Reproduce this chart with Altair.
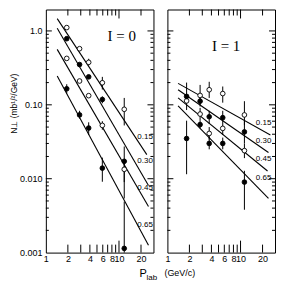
import altair as alt
import pandas as pd

SERIES = ["0.15", "0.30", "0.45", "0.65"]
MARKER = ["open", "filled", "open", "filled"]

# ---- Left panel (I = 0) ----
L_X = [1.93, 2.89, 3.85, 5.92, 11.8]
L_Y015 = [1.11, 0.575, 0.376, 0.199, 0.087]
L_Y030 = [0.785, 0.351, 0.239, 0.118, 0.0172]
L_Y045 = [0.425, 0.210, 0.133, 0.0527, 0.0134]
L_Y065 = [0.165, 0.0730, 0.0485, 0.0139, 0.00114]
L_LO015 = [None, None, 0.34, 0.161, 0.0526]
L_HI015 = [None, None, 0.42, 0.239, 0.124]
L_LO030 = [None, None, None, 0.105, 0.0054]
L_HI030 = [None, None, None, 0.13, 0.0273]
L_LO045 = [None, None, None, 0.046, 0.009]
L_HI045 = [None, None, None, 0.060, 0.018]
L_LO065 = [0.143, 0.065, 0.039, 0.0091, 0.001]
L_HI065 = [0.19, 0.083, 0.058, 0.0193, 0.0049]
L_FIT_X0 = [1.43, 1.43, 1.43, 1.43]
L_FIT_X1 = [24.0, 25.3, 25.3, 25.3]
L_FIT_Y0 = [1.47, 1.085, 0.563, 0.246]
L_FIT_Y1 = [0.0212, 0.0081, 0.0042, 0.00126]
L_LAB_X = [17.8, 17.8, 17.8, 17.8]
L_LAB_Y = [0.037, 0.0173, 0.0074, 0.0024]
L_NOTE = "I = 0"
L_NOTE_X = [10.9]
L_NOTE_Y = [0.85]

# ---- Right panel (I = 1) ----
R_X = [1.83, 2.80, 3.73, 5.71, 11.3]
R_Y015 = [0.113, 0.134, 0.160, 0.142, 0.073]
R_Y030 = [0.130, 0.112, 0.069, 0.067, 0.043]
R_Y045 = [None, 0.075, 0.041, 0.048, 0.024]
R_Y065 = [0.035, 0.054, 0.030, 0.030, 0.009]
R_LO015 = [None, 0.101, 0.124, 0.107, 0.053]
R_HI015 = [None, 0.186, 0.205, 0.177, 0.112]
R_LO030 = [0.085, 0.095, 0.055, 0.055, 0.030]
R_HI030 = [0.20, 0.13, 0.083, 0.083, 0.060]
R_LO045 = [None, 0.061, 0.034, 0.039, 0.019]
R_HI045 = [None, 0.091, 0.050, 0.055, 0.030]
R_LO065 = [0.0115, 0.048, 0.025, 0.025, 0.0038]
R_HI065 = [0.061, 0.061, 0.037, 0.036, 0.0128]
R_FIT_X0 = [1.40, 1.40, 1.40, 1.40]
R_FIT_X1 = [25.6, 24.1, 23.4, 24.1]
R_FIT_Y0 = [0.195, 0.160, 0.124, 0.0965]
R_FIT_Y1 = [0.039, 0.0226, 0.0127, 0.0054]
R_LAB_X = [16.2, 16.2, 16.2, 16.2]
R_LAB_Y = [0.0565, 0.0325, 0.0183, 0.0102]
R_NOTE = "I = 1"
R_NOTE_X = [6.35]
R_NOTE_Y = [0.63]

# ---- axes ----
X_LABELS = [1, 2, 4, 6, 8, 10, 20]
X_TICKS_SHORT = [2, 3, 4, 5, 6, 7, 8, 9, 20]
X_TICKS_LONG = [10]
Y_LABELS = [0.001, 0.01, 0.1, 1.0]
Y_LABEL_TEXT = ["0.001", "0.010", "0.10", "1.0"]
Y_TICKS_MAJOR = [0.01, 0.1, 1.0]
Y_TICKS_MINOR = [m * d for d in (0.001, 0.01, 0.1) for m in range(2, 10)]
X_DOMAIN = [1, 29.6]
Y_DOMAIN = [0.001, 1.95]
Y_TITLE = "N⊥ (mb¹/²/GeV)"

W, H = 108, 244
FONT = "Liberation Sans"

label_expr = " : ".join(
    f"datum.value < {v * 1.5} ? '{t}'" for v, t in zip(Y_LABELS, Y_LABEL_TEXT)
) + " : ''"


def points_df(X, Ys, LOs, HIs):
    rows = []
    for s, k, ys, los, his in zip(SERIES, MARKER, Ys, LOs, HIs):
        for x, y, lo, hi in zip(X, ys, los, his):
            if y is None:
                continue
            rows.append(dict(series=s, kind=k, x=x, y=y, lo=lo, hi=hi))
    return pd.DataFrame(rows)


def panel(X, Ys, LOs, HIs, fx0, fx1, fy0, fy1, lx, ly, note, nx, ny, left):
    xs = alt.Scale(type="log", domain=X_DOMAIN, nice=False)
    ys = alt.Scale(type="log", domain=Y_DOMAIN, nice=False)
    xaxis = alt.Axis(values=X_LABELS, ticks=False, domain=False, grid=False,
                     labelFontSize=9, labelPadding=2, labelFlush=False,
                     labelOverlap=False, title=None, format="d", labelFont=FONT)
    if left:
        yaxis = alt.Axis(values=Y_LABELS, ticks=False, tickSize=0, domain=False,
                         grid=False, labelFontSize=9, labelPadding=4,
                         labelExpr=label_expr, title=Y_TITLE, titleFontSize=8.5,
                         titleFontWeight="normal", titlePadding=1, titleY=94,
                         labelFont=FONT, titleFont=FONT)
    else:
        yaxis = None

    def X_(f):
        return alt.X(f, type="quantitative", scale=xs, axis=xaxis)

    def Y_(f):
        return alt.Y(f, type="quantitative", scale=ys, axis=yaxis)

    pts = points_df(X, Ys, LOs, HIs)
    errs = pts.dropna(subset=["lo", "hi"])

    fit_rows = []
    for s, a, b, c, d in zip(SERIES, fx0, fx1, fy0, fy1):
        fit_rows.append(dict(series=s, x=a, y=c))
        fit_rows.append(dict(series=s, x=b, y=d))
    fits = pd.DataFrame(fit_rows)
    labs = pd.DataFrame(dict(series=SERIES, x=lx, y=ly))
    notes = pd.DataFrame(dict(t=[note], x=nx, y=ny))

    layers = []
    layers.append(alt.Chart(fits).mark_line(color="black", strokeWidth=1.1).encode(
        x=X_("x"), y=Y_("y"), detail="series:N"))
    layers.append(alt.Chart(errs).mark_rule(color="black", strokeWidth=1).encode(
        x=X_("x"), y=Y_("lo"), y2="hi"))
    layers.append(alt.Chart(pts).mark_circle(size=22, opacity=1, stroke="black",
                                             strokeWidth=0.9).encode(
        x=X_("x"), y=Y_("y"),
        fill=alt.Fill("kind:N", scale=alt.Scale(domain=["open", "filled"],
                                                 range=["white", "black"]), legend=None)))
    layers.append(alt.Chart(labs).mark_text(align="left", baseline="middle", fontSize=8,
                                            font=FONT, color="black").encode(
        x=X_("x"), y=Y_("y"), text="series:N"))
    layers.append(alt.Chart(notes).mark_text(align="center", baseline="middle", fontSize=15,
                                             font="Liberation Serif", color="black").encode(
        x=X_("x"), y=Y_("y"), text="t:N"))

    ymaj = pd.DataFrame(dict(v=Y_TICKS_MAJOR))
    ymin = pd.DataFrame(dict(v=Y_TICKS_MINOR))
    xsh = pd.DataFrame(dict(v=X_TICKS_SHORT))
    xlo = pd.DataFrame(dict(v=X_TICKS_LONG))
    r = dict(color="black", strokeWidth=1)
    for df, ln in ((ymaj, 6), (ymin, 3)):
        layers.append(alt.Chart(df).mark_rule(**r).encode(
            y=Y_("v"), x=alt.value(0), x2=alt.value(ln)))
        layers.append(alt.Chart(df).mark_rule(**r).encode(
            y=Y_("v"), x=alt.value(W), x2=alt.value(W - ln)))
    for df, ln, lt in ((xsh, 8, 6), (xlo, 12, 9)):
        layers.append(alt.Chart(df).mark_rule(**r).encode(
            x=X_("v"), y=alt.value(H), y2=alt.value(H - ln)))
        layers.append(alt.Chart(df).mark_rule(**r).encode(
            x=X_("v"), y=alt.value(0), y2=alt.value(lt)))

    if left:
        layers.append(alt.Chart(notes).mark_text(align="left", baseline="alphabetic",
                                                 fontSize=11, font=FONT).encode(
            x=alt.value(94), y=alt.value(H + 24), text=alt.value("P")))
        layers.append(alt.Chart(notes).mark_text(align="left", baseline="alphabetic",
                                                 fontSize=8, font=FONT).encode(
            x=alt.value(101), y=alt.value(H + 27), text=alt.value("lab")))
        layers.append(alt.Chart(notes).mark_text(align="left", baseline="alphabetic",
                                                 fontSize=9, font=FONT).encode(
            x=alt.value(119), y=alt.value(H + 23), text=alt.value("(GeV/c)")))

    return alt.layer(*layers).properties(width=W, height=H)


left = panel(L_X, [L_Y015, L_Y030, L_Y045, L_Y065],
             [L_LO015, L_LO030, L_LO045, L_LO065],
             [L_HI015, L_HI030, L_HI045, L_HI065],
             L_FIT_X0, L_FIT_X1, L_FIT_Y0, L_FIT_Y1, L_LAB_X, L_LAB_Y,
             L_NOTE, L_NOTE_X, L_NOTE_Y, True)
right = panel(R_X, [R_Y015, R_Y030, R_Y045, R_Y065],
              [R_LO015, R_LO030, R_LO045, R_LO065],
              [R_HI015, R_HI030, R_HI045, R_HI065],
              R_FIT_X0, R_FIT_X1, R_FIT_Y0, R_FIT_Y1, R_LAB_X, R_LAB_Y,
              R_NOTE, R_NOTE_X, R_NOTE_Y, False)

chart = (alt.hconcat(left, right, spacing=14, bounds="flush")
         .properties(padding=0)
         .configure(font=FONT)
         .configure_view(stroke="black", strokeWidth=1))

chart.save("out.html", embed_options={"renderer": "svg", "actions": False})
